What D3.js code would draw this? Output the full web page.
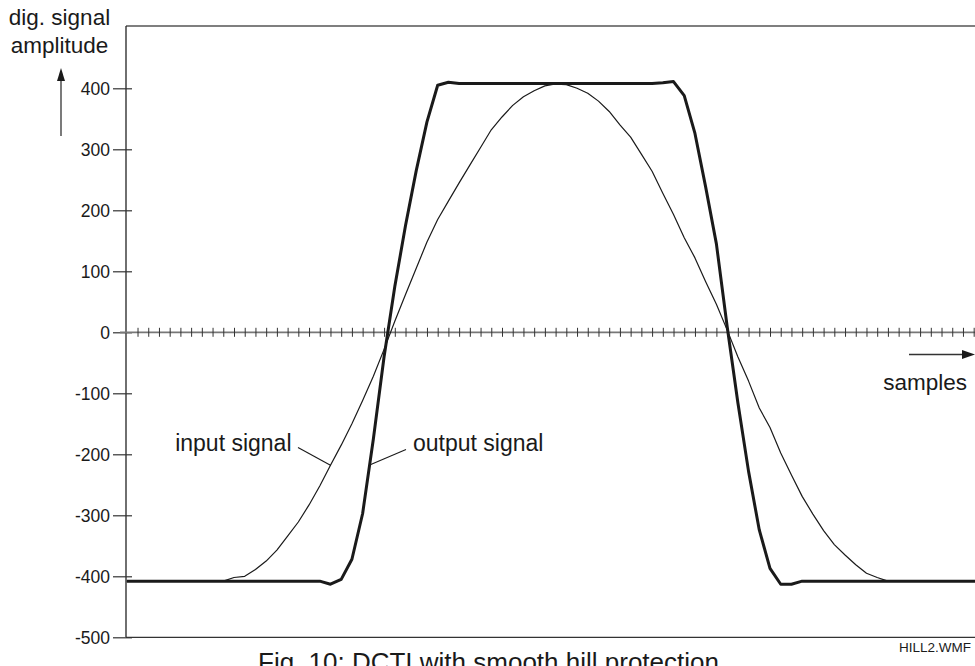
<!DOCTYPE html>
<html>
<head>
<meta charset="utf-8">
<script src="https://cdn.jsdelivr.net/npm/d3@7"></script>
<style>
  html, body { margin: 0; padding: 0; background: #fff; }
  svg { display: block; }
  text { font-family: "Liberation Sans", Arial, Helvetica, sans-serif; fill: #1a1a1a; }
</style>
</head>
<body>
<svg id="chart" width="975" height="666"></svg>
<script>
// Sample values of the two signals (one value per sample, 0..80)
const inputSignal = [
  -408, -408, -408, -408, -408, -408, -408, -408, -408, -408,
  -402, -400, -389, -375, -357, -334, -311, -283, -252, -218,
  -185, -150, -112,  -72,  -28,   18,   62,  105,  148,  185,
   215,  245,  274,  303,  332,  353,  372,  386,  396,  404,
   407,  406,  400,  392,  379,  362,  340,  320,  292,  264,
   228,  193,  155,  122,   83,   46,    4,  -40,  -80, -124,
  -156, -198, -234, -269, -298, -325, -348, -365, -381, -395,
  -402, -408, -408, -408, -408, -408, -408, -408, -408, -408,
  -408
];
const outputSignal = [
  -408, -408, -408, -408, -408, -408, -408, -408, -408, -408,
  -408, -408, -408, -408, -408, -408, -408, -408, -408, -413,
  -405, -372, -297, -175,  -40,   75,  175,  265,  345,  405,
   410,  408,  408,  408,  408,  408,  408,  408,  408,  408,
   408,  408,  408,  408,  408,  408,  408,  408,  408,  408,
   409,  411,  388,  326,  238,  145,   10, -115, -228, -324,
  -387, -413, -413, -408, -408, -408, -408, -408, -408, -408,
  -408, -408, -408, -408, -408, -408, -408, -408, -408, -408,
  -408
];
const yTickValues = [400, 300, 200, 100, 0, -100, -200, -300, -400, -500];
const sampleTicks = d3.range(1, 80);   // one tick per sample on the zero line
const yTitleLines = ["dig. signal", "amplitude"];
const xTitle = "samples";
const seriesLabels = { input: "input signal", output: "output signal" };
const caption = "Fig. 10: DCTI with smooth hill protection";
const fileTag = "HILL2.WMF";

(function draw() {
  const svg = d3.select("#chart");
  const W = 975, H = 666;
  const plotLeft = 126, plotTop = 26, plotBottom = 637.3;
  const step = 10.72;

  const x = d3.scaleLinear().domain([0, 80]).range([126.8, 126.8 + 80 * step]);
  const y = d3.scaleLinear().domain([-500, 400]).range([plotBottom, 88.3]);

  const ink = "#1a1a1a";

  // frame: top and bottom border (right side runs past the page edge)
  svg.append("line").attr("x1", plotLeft).attr("x2", W + 5).attr("y1", plotTop).attr("y2", plotTop)
    .attr("stroke", "#555").attr("stroke-width", 1.6);
  svg.append("line").attr("x1", plotLeft).attr("x2", W + 5).attr("y1", y(-500)).attr("y2", y(-500))
    .attr("stroke", "#333").attr("stroke-width", 1.3);

  // y axis with value ticks (plain hyphen for negatives)
  const yAxis = d3.axisLeft(y).tickValues(yTickValues).tickSize(0).tickPadding(0).tickFormat(d => String(d));
  const gy = svg.append("g").attr("transform", `translate(${plotLeft},0)`).call(yAxis);
  gy.select(".domain").attr("d", `M0,${plotTop}V${plotBottom}`).attr("stroke", "#222").attr("stroke-width", 1.3);
  gy.selectAll(".tick line").attr("x1", -13).attr("x2", 6).attr("stroke", "#333").attr("stroke-width", 1.2);
  gy.selectAll(".tick text").attr("x", -16).attr("dy", "0.35em")
    .style("font-size", "17.5px").style("font-family", "'Liberation Sans', Arial, sans-serif").attr("fill", ink);

  // zero line with sample ticks
  const xAxis = d3.axisBottom(x).tickValues(sampleTicks).tickSize(4).tickFormat("");
  const gx = svg.append("g").attr("transform", `translate(0,${y(0)})`).call(xAxis);
  gx.select(".domain").attr("d", `M${plotLeft - 6},0H${W + 5}`).attr("stroke", "#777").attr("stroke-width", 1.8);
  gx.selectAll(".tick line").attr("y1", -4.5).attr("y2", 4.5).attr("stroke", "#333").attr("stroke-width", 1);

  // signal curves
  svg.append("defs").append("clipPath").attr("id", "plotClip")
    .append("rect").attr("x", plotLeft).attr("y", 0).attr("width", W - plotLeft).attr("height", H);

  const line = d3.line().x((d, i) => x(i)).y(d => y(d));
  const plot = svg.append("g").attr("clip-path", "url(#plotClip)");
  plot.append("path").datum(inputSignal).attr("d", line)
    .attr("fill", "none").attr("stroke", ink).attr("stroke-width", 1.2).attr("stroke-linejoin", "round");
  plot.append("path").datum(outputSignal).attr("d", line)
    .attr("fill", "none").attr("stroke", ink).attr("stroke-width", 3).attr("stroke-linejoin", "round");

  // labels with leader lines to the curves
  function valueAt(series, s) {
    const i0 = Math.floor(s), f = s - i0;
    return series[i0] + (series[i0 + 1] - series[i0]) * f;
  }
  const labelFont = "23px";
  svg.append("text").attr("x", 291.5).attr("y", 451).attr("text-anchor", "end")
    .style("font-size", labelFont).text(seriesLabels.input);
  svg.append("line").attr("x1", 298).attr("y1", 447.5)
    .attr("x2", x(19)).attr("y2", y(valueAt(inputSignal, 19)))
    .attr("stroke", ink).attr("stroke-width", 1.1);

  svg.append("text").attr("x", 413).attr("y", 451).attr("text-anchor", "start")
    .style("font-size", labelFont).text(seriesLabels.output);
  svg.append("line").attr("x1", 406).attr("y1", 449.5)
    .attr("x2", x(22.65)).attr("y2", y(valueAt(outputSignal, 22.65)))
    .attr("stroke", ink).attr("stroke-width", 1.1);

  // y title and arrow
  svg.append("text").attr("x", 59.5).attr("y", 25).attr("text-anchor", "middle")
    .style("font-size", "22.5px").text(yTitleLines[0]);
  svg.append("text").attr("x", 59.5).attr("y", 52.5).attr("text-anchor", "middle")
    .style("font-size", "22.5px").text(yTitleLines[1]);
  svg.append("line").attr("x1", 61).attr("x2", 61).attr("y1", 136).attr("y2", 78)
    .attr("stroke", "#333").attr("stroke-width", 1.3);
  svg.append("path").attr("d", "M61,68L65,81L57,81Z").attr("fill", ink);

  // x title and arrow
  svg.append("line").attr("x1", 909).attr("x2", 965).attr("y1", 354.5).attr("y2", 354.5)
    .attr("stroke", "#333").attr("stroke-width", 1.3);
  svg.append("path").attr("d", "M975,354.5L962,350L962,359Z").attr("fill", ink);
  svg.append("text").attr("x", 967).attr("y", 389.5).attr("text-anchor", "end")
    .style("font-size", "22.5px").text(xTitle);

  // caption (runs off the bottom edge of the page) and file tag
  svg.append("text").attr("x", 258).attr("y", 671).attr("text-anchor", "start")
    .style("font-size", "26px").text(caption);
  svg.append("text").attr("x", 971).attr("y", 652).attr("text-anchor", "end")
    .style("font-size", "13.5px").text(fileTag);
})();
</script>
</body>
</html>
